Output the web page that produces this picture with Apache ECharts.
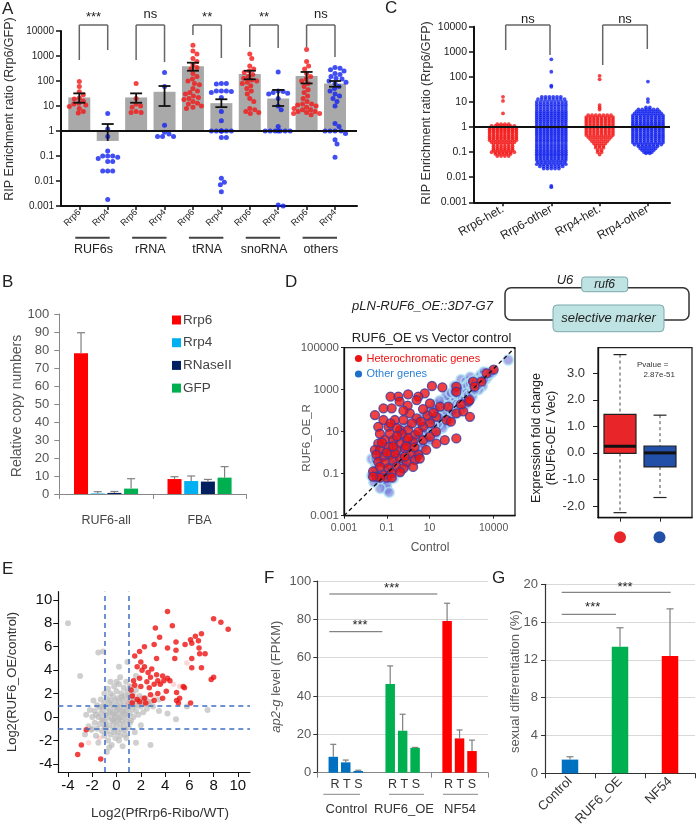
<!DOCTYPE html>
<html><head><meta charset="utf-8">
<script src="https://cdn.jsdelivr.net/npm/echarts@6/dist/echarts.min.js"></script>
<style>html,body{margin:0;padding:0;background:#fff}#c{width:696px;height:824px}</style>
</head><body><div id="c"></div>
<script>
const FONT = "'Liberation Sans', Arial, Helvetica, sans-serif";

// ---------- Panel A ----------
const A_groups = ['RUF6s', 'rRNA', 'tRNA', 'snoRNA', 'others'];
const A_sub = ['Rrp6', 'Rrp4', 'Rrp6', 'Rrp4', 'Rrp6', 'Rrp4', 'Rrp6', 'Rrp4', 'Rrp6', 'Rrp4'];
const A_mean = [22, 0.4, 22, 37, 385, 13, 190, 20, 158, 80];
const A_errHi = [32, 1.9, 32, 63, 540, 18.6, 257, 44, 230, 100];
const A_errLo = [13.5, null, 13.5, 10, 257, 9, 117, 10, 80, 59];
const A_sig = ['***', 'ns', '**', '**', 'ns'];
const A_RUF6s_Rrp6 = [95, 60, 37, 28, 21, 19, 16, 13, 12, 11, 9.5, 8, 6, 5.2];
const A_RUF6s_Rrp4 = [5, 1.2, 0.6, 0.16, 0.1, 0.1, 0.1, 0.09, 0.08, 0.06, 0.06, 0.025, 0.025, 0.025, 0.0018];
const A_rRNA_Rrp6 = [80, 20, 12, 10, 9, 6, 5.5, 5.5];
const A_rRNA_Rrp4 = [220, 60, 1.7, 0.9, 0.6, 0.6, 0.6, 0.75];
const A_tRNA_Rrp6 = [2700, 1600, 1200, 800, 600, 450, 350, 300, 200, 150, 120, 100, 80, 70, 50, 40, 35, 30, 25, 22, 20, 18, 15, 13, 12, 10, 9, 8];
const A_tRNA_Rrp4 = [80, 80, 75, 40, 40, 38, 40, 35, 22, 6, 2.6, 1, 1, 1, 1, 1, 1, 1, 0.55, 0.55, 0.013, 0.009, 0.007, 0.0037];
const A_snoRNA_Rrp6 = [1200, 800, 400, 300, 250, 220, 180, 150, 130, 110, 100, 90, 80, 65, 50, 40, 30, 20, 15, 8, 7, 6, 5, 5.5];
const A_snoRNA_Rrp4 = [230, 40, 38, 35, 32, 30, 20, 10, 7, 1.5, 1, 1, 1, 1, 1, 1, 1, 0.001, 0.0011];
const A_others_Rrp6 = [1800, 600, 400, 300, 200, 150, 120, 100, 80, 60, 45, 35, 25, 20, 15, 12, 12, 11, 10, 9, 8, 7, 7, 6, 6, 5.5, 5, 5, 4.5];
const A_others_Rrp4 = [350, 320, 280, 250, 200, 180, 150, 130, 120, 100, 90, 80, 60, 50, 40, 30, 25, 20, 15, 10, 2, 1.5, 1, 1, 1, 1, 0.8, 0.45, 0.3, 0.09];

// ---------- Panel C : [value, number of genes at that level] ----------
const C_cats = ['Rrp6-het.', 'Rrp6-other', 'Rrp4-het.', 'Rrp4-other'];
const C_Rrp6_het = [[16,1],[11,1],[3.5,1],[1.3,4],[1.1,7],[0.95,8],[0.82,8],[0.7,8],[0.6,8],[0.5,8],[0.42,8],[0.36,8],[0.3,8],[0.25,7],[0.21,6],[0.17,6],[0.14,6],[0.12,6],[0.1,7],[0.085,5],[0.07,4]];
const C_Rrp6_other = [[500,1],[160,1],[45,1],[40,1],[16,6],[13,8],[10,9],[8,9],[6.5,9],[5.2,9],[4.2,9],[3.5,9],[2.9,9],[2.4,9],[2,9],[1.65,9],[1.35,9],[1.12,9],[0.93,9],[0.78,9],[0.65,9],[0.54,9],[0.45,9],[0.37,9],[0.31,9],[0.26,9],[0.21,9],[0.175,9],[0.145,9],[0.12,9],[0.1,9],[0.083,9],[0.07,9],[0.058,9],[0.048,9],[0.04,8],[0.033,9],[0.027,7],[0.022,5],[0.0045,1],[0.004,1]];
const C_Rrp4_het = [[110,1],[80,1],[7.5,1],[6,1],[5,1],[3,7],[2.5,8],[2.1,8],[1.75,8],[1.45,8],[1.2,8],[1.0,8],[0.85,8],[0.7,8],[0.58,8],[0.48,8],[0.4,7],[0.33,6],[0.27,5],[0.22,4],[0.18,3],[0.15,3],[0.12,2],[0.1,2],[0.08,1]];
const C_Rrp4_other = [[65,1],[13,1],[10,1],[6,2],[5,6],[4.2,7],[3.5,8],[2.9,9],[2.4,9],[2,9],[1.65,9],[1.4,9],[1.18,9],[1.0,9],[0.85,9],[0.72,9],[0.6,9],[0.5,9],[0.42,9],[0.35,9],[0.29,9],[0.24,9],[0.2,8],[0.17,6],[0.14,5],[0.12,4],[0.1,3],[0.09,2]];

// ---------- Panel B ----------
const B_cats = ['RUF6-all', 'FBA'];
const B_names = ['Rrp6', 'Rrp4', 'RNaseII', 'GFP'];
const B_colors = ['#ff0000', '#00b0f0', '#002060', '#00b050'];
const B_Rrp6 = [78.2, 8.3], B_Rrp6_err = [89.6, 9.6];
const B_Rrp4 = [0.3, 7.2], B_Rrp4_err = [1.3, 10];
const B_RNaseII = [0.6, 6.9], B_RNaseII_err = [1.4, 8.1];
const B_GFP = [3, 9.1], B_GFP_err = [8.5, 15.2];

// ---------- Panel D ----------
const D_het = [[10000,9000],[4700,6000],[1100,2400],[2700,2400],[1300,1400],[180,1400],[180,800],[40,1300],[13,1500],[6,670],[3,470],[1,600],[0.35,470],[0.15,470],[0.4,270],[0.17,130],[0.07,130],[0.028,62],[0.95,175],[2.5,320],[10.5,220],[31,155],[76,155],[180,75],[650,270],[750,320],[380,93],[780,51],[63,36],[21,51],[10.5,25],[5,17],[2.5,43],[1.2,75],[0.6,36],[0.24,36],[0.12,17],[0.07,36],[0.04,17],[0.048,8],[0.14,8],[0.42,12],[1,12],[2.1,7],[5,4],[10.5,5.8],[21,2.7],[52,4],[180,4.8],[1.7,3.3],[0.85,4],[0.42,2.7],[0.2,4],[0.08,4],[0.04,2.7],[0.028,1.35],[0.048,1.35],[0.12,1.9],[0.29,1.35],[0.7,1.6],[1.4,0.93],[3,0.8],[7,1.35],[0.14,0.8],[0.07,0.65],[0.033,0.8],[0.04,0.37],[0.08,0.32],[0.2,0.45],[0.42,0.53],[0.85,0.37],[0.29,0.21],[0.12,0.18],[0.048,0.21],[0.023,0.13],[0.034,0.072],[0.07,0.085],[0.17,0.11],[0.1,0.065],[0.048,0.065],[0.17,0.065],[0.023,0.072],[2.1,0.45],[3.5,0.53],[1.7,0.21],[0.6,0.18],[0.42,0.12],[0.24,0.93],[0.7,0.65],[0.5,8],[0.3,15],[1.5,25],[4,30],[8,60],[15,80],[0.8,2],[2,1.8],[0.1,1],[0.2,2],[0.06,3],[0.3,6],[1,5],[3,10],[0.15,25],[0.6,100],[5,120],[20,10],[100,30],[300,200]];
const D_other = [[48000,26000],[9000,7000],[6000,5500],[5000,6500],[4000,3000],[3000,4500],[2500,2000],[2000,3500],[1500,1200],[1200,2200],[1000,900],[900,1500],[800,600],[700,1100],[600,450],[500,800],[400,300],[350,600],[300,250],[250,400],[200,150],[180,300],[150,120],[120,200],[100,80],[90,150],[80,60],[70,110],[60,40],[50,80],[40,30],[35,60],[30,20],[25,40],[20,15],[18,30],[15,10],[12,22],[10,7],[9,15],[8,5],[7,12],[6,4],[5,9],[4,3],[3.5,6],[3,2],[2.5,4.5],[2,1.5],[1.8,3],[1.5,1],[1.2,2.2],[1,0.7],[0.9,1.5],[0.8,0.5],[0.7,1.1],[0.6,0.35],[0.5,0.8],[0.4,0.25],[0.35,0.6],[0.3,0.2],[0.25,0.4],[0.2,0.15],[0.18,0.3],[0.15,0.1],[0.12,0.2],[0.1,0.07],[0.09,0.14],[0.08,0.05],[0.07,0.1],[0.06,0.04],[0.05,0.08],[0.04,0.05],[0.03,0.3],[0.1,0.018],[0.02,0.5],[300,3000],[500,2500],[150,1500],[800,4000],[200,800],[100,500],[60,300],[30,150],[20,200],[10,100],[5,50],[3,30],[1,20],[0.5,10],[0.3,5],[0.2,3],[0.1,1.5],[0.05,1],[0.03,0.5],[0.02,0.08],[1500,3000],[2500,5000],[3500,7000],[600,1800],[400,1200],[250,900],
  [20,60],[30,90],[50,150],[70,200],[100,300],[150,450],[200,600],[300,900],[400,1200],[600,1500],[800,2000],[1000,2500],[1500,2500],[2000,2000],[3000,2500],[4000,4000],[5000,4000],[7000,6000],[3000,1500],[2000,1000],[1000,500],[700,300],[500,200],[300,120],[200,80],[100,40],[60,25],[40,15],[20,8],[10,4],[5,2],[3,1],[1.5,0.5],[0.8,0.25],[0.4,0.12],[0.2,0.06],[0.1,0.03],[0.05,0.02],[0.13,0.013],[0.025,0.04],[0.03,0.15],[0.04,0.6],[15,40],[25,25],[40,50],[60,100],[80,150],[120,90],[180,200],[250,180],[350,400],[450,350],[550,700],[650,550],[900,800],[1100,1300],[1300,1000],[1800,1600],[2200,2600],[2800,3200],[3500,3000],[40,200],[60,500],[100,700],[150,800],[30,300],[20,120],[10,50],[8,30],[15,20],[12,35]];
const D_boxRed = [-2.25, -0.02, 0.25, 1.45, 3.7];   // min, q1, median, q3, max
const D_boxBlue = [-1.68, -0.53, 0.0, 0.26, 1.42];
const D_boxColors = ['#e8262a', '#2250a8'];

// ---------- Panel E ----------
const E_sig = [[4.2,9.0],[8.0,8.4],[8.6,8.1],[9.2,7.5],[4.6,7.8],[3.2,7.6],[3.55,6.8],[7.0,7.1],[6.5,6.9],[6.1,6.6],[6.75,6.5],[6.2,6.3],[5.65,6.2],[6.8,5.9],[4.9,6.4],[4.9,5.7],[3.1,6.2],[2.3,6.0],[4.2,5.9],[6.85,5.4],[7.3,5.4],[6.2,5.0],[4.8,5.0],[3.3,5.0],[1.9,5.6],[1.5,5.2],[2.0,4.7],[7.0,4.2],[6.2,4.2],[8.0,3.4],[7.8,3.2],[2.3,4.3],[1.7,4.3],[2.1,4.0],[2.6,3.8],[2.9,4.1],[3.3,3.6],[3.8,3.5],[4.2,3.3],[2.8,3.4],[2.5,3.0],[3.4,3.1],[3.9,3.1],[4.4,3.1],[3.1,2.8],[3.6,2.8],[1.9,3.3],[1.4,3.1],[1.5,2.7],[2.0,2.6],[2.7,2.5],[4.1,2.2],[4.95,2.1],[5.5,2.6],[5.6,2.5],[5.2,1.6],[4.95,1.4],[6.1,1.2],[5.1,1.2],[1.2,2.3],[1.3,1.8],[1.7,1.5],[2.3,1.6],[2.8,1.9],[3.4,2.0],[3.8,1.6],[3.1,1.4],[2.4,1.2],[1.9,1.3],[1.3,1.2],[-2.5,-1.1],[-2.9,-2.4],[-3.2,-3.2],[-1.3,-3.6]];
const E_weak = [[1.5,1.8],[2.0,1.6],[3.7,2.9],[5.8,4.6],[4.7,2.8],[-1.4,-1.8],[-2.3,-2.2],[1.1,1.5],[2.6,1.3],[1.2,2.6],[3.1,1.7],[5.2,2.6],[1.0,1.1],[2.2,1.1]];
const E_bg = [[-2,0],[-1.8,0.5],[-1.8,-0.5],[-1.6,1],[-1.6,-1],[-1.5,0],[-1.4,0.8],[-1.4,-0.6],[-1.3,1.5],[-1.3,0.3],[-1.2,-1.2],[-1.2,-0.2],[-1.1,0.6],[-1,2],[-1,1.2],[-1,-0.8],[-1,-1.6],[-0.9,0.2],[-0.9,-0.4],[-0.8,1.6],[-0.8,0.8],[-0.8,-1.2],[-0.7,2.4],[-0.7,0],[-0.7,-2],[-0.6,1.2],[-0.6,-0.7],[-0.5,0.5],[-0.5,-1.5],[-0.5,2],[-0.4,-0.2],[-0.4,1],[-0.4,-2.4],[-0.3,1.8],[-0.3,0.3],[-0.3,-1],[-0.2,-0.5],[-0.2,0.8],[-0.2,2.6],[-0.1,1.4],[-0.1,0],[-0.1,-1.8],[0,0.5],[0,-0.8],[0,2.2],[0,1],[0.1,-0.3],[0.1,1.6],[0.1,-1.3],[0.2,0.3],[0.2,2.8],[0.2,-2],[0.3,1.2],[0.3,-0.6],[0.3,0.8],[0.4,0],[0.4,2],[0.4,-1.1],[0.5,1.5],[0.5,0.5],[0.5,-0.3],[0.5,-2.5],[0.6,1],[0.6,2.5],[0.6,-0.8],[0.7,0.2],[0.7,1.8],[0.7,-1.5],[0.8,0.6],[0.8,3],[0.8,-0.4],[0.9,1.3],[0.9,0],[0.9,2.2],[1,0.8],[1,-0.9],[1,1.8],[1.1,0.3],[1.1,2.6],[1.2,1.2],[1.2,-0.3],[1.3,0.7],[1.3,2],[1.4,1.5],[1.4,0],[1.5,1],[1.6,2.3],[1.6,0.5],[1.7,1.4],[1.8,0.2],[1.9,1.8],[2,0.9],[2.1,1.2],[2.2,0.4],[2.4,1.6],[2.5,0.7],[2.6,1.1],[2.8,1.3],[3,0.9],[-2.3,-0.8],[-2.2,0.6],[-2.5,0.2],[-1.9,1.4],[-1.7,-1.6],[-2.6,-1.5],[0.3,3.4],[0,3],[-0.5,3],[1.6,3.5],[0.9,4.7],[0.2,4.3],[-1.1,5.6],[-1.5,5.5],[-4,8],[-3,3.5],[7.5,0.6],[5.8,0.9],[4.9,-0.2],[3.5,0.5],[1.6,-2.2],[2.8,-2.4],[-0.6,-2.6],[-0.8,-3.0],[3.5,1.5],[4.2,0.3],[2,-0.7],[-1.5,-2.2],[-2.1,-1.1],[1.5,-1.3],[0.8,-1.8],[-0.2,0.2],[0.2,-0.1],[-0.6,0.4],[0.6,0.4],[-0.3,-0.3],[0.1,0.7],[-1.1,-0.3],[1.1,-0.5],[-0.5,1.4],[0.4,1.7],[-1.2,0.9],[1.3,1.4],[-0.9,-0.9],[0.7,-1.1],[-0.2,-1.3],[0.3,-1.6],[1.8,1],[2.2,1.6],[-1.7,0.2],[-2,-1]];

// ---------- Panel F ----------
const F_cats = ['Control', 'RUF6_OE', 'NF54'];
const F_colors = ['#0070c0', '#00b050', '#ff0000'];
const F_R = [8.3, 46.3, 79.1], F_R_err = [14.8, 55.7, 88.4];
const F_T = [5.4, 21.9, 17.9], F_T_err = [6.6, 30.5, 22.3];
const F_S = [0.9, 13.0, 11.3], F_S_err = [1.3, 13.2, 17.0];

// ---------- Panel G ----------
const G_cats = ['Control', 'RUF6_OE', 'NF54'];
const G_vals = [1.45, 13.4, 12.4];
const G_err = [1.75, 15.4, 17.4];

// ================= helpers (layout only) =================
function fmtLog(v) {
  if (v >= 1) return String(Math.round(v));
  const e = Math.round(Math.log10(v));
  return Math.pow(10, e).toFixed(-e);
}
function swarm(values, center, pxDec, pxUnit, diam, maxHalf) {
  const placed = [], out = [];
  values.slice().sort((a, b) => b - a).forEach(v => {
    const py = Math.log10(v) * pxDec;
    let best = 0;
    for (let k = 0; k < 400; k++) {
      const off = (k % 2 ? 1 : -1) * Math.ceil(k / 2) * 0.5;
      if (Math.abs(off) > maxHalf) { best = 0; break; }
      let ok = true;
      for (const p of placed) {
        const dx = p[0] - off, dy = p[1] - py;
        if (dx * dx + dy * dy < diam * diam * 0.9) { ok = false; break; }
      }
      if (ok) { best = off; break; }
    }
    placed.push([best, py]);
    out.push([center + best / pxUnit, v]);
  });
  return out;
}
function bands(bins, center, spPx, maxW, pxUnit) {
  const out = [];
  bins.forEach(([v, n]) => {
    const sp = n > 1 ? Math.min(spPx, maxW / (n - 1)) : 0;
    for (let i = 0; i < n; i++) out.push([center + (i - (n - 1) / 2) * sp / pxUnit, v]);
  });
  return out;
}

const A_ptsRed = [].concat(
  swarm(A_RUF6s_Rrp6, 0, 25, 28.41, 5, 14), swarm(A_rRNA_Rrp6, 2, 25, 28.41, 5, 14),
  swarm(A_tRNA_Rrp6, 4, 25, 28.41, 5, 14), swarm(A_snoRNA_Rrp6, 6, 25, 28.41, 5, 14),
  swarm(A_others_Rrp6, 8, 25, 28.41, 5, 14));
const A_ptsBlue = [].concat(
  swarm(A_RUF6s_Rrp4, 1, 25, 28.41, 5, 14), swarm(A_rRNA_Rrp4, 3, 25, 28.41, 5, 14),
  swarm(A_tRNA_Rrp4, 5, 25, 28.41, 5, 14), swarm(A_snoRNA_Rrp4, 7, 25, 28.41, 5, 14),
  swarm(A_others_Rrp4, 9, 25, 28.41, 5, 14));
const C_ptsRed = [].concat(bands(C_Rrp6_het, 0, 3.8, 29, 48.3), bands(C_Rrp4_het, 2, 3.8, 30, 48.3));
const C_ptsBlue = [].concat(bands(C_Rrp6_other, 1, 3.8, 29, 48.3), bands(C_Rrp4_other, 3, 3.8, 30, 48.3));

function errRender(spacing, nSer, capHalf, color) {
  return function (params, api) {
    const band = api.size([1, 0])[0];
    const cx = api.coord([api.value(0), 0])[0] + (api.value(1) - (nSer - 1) / 2) * spacing * band;
    const top = api.coord([api.value(0), api.value(2)])[1];
    const base = api.coord([api.value(0), api.value(3)])[1];
    const st = { stroke: color, lineWidth: 1.2 };
    return { type: 'group', children: [
      { type: 'line', shape: { x1: cx, y1: base, x2: cx, y2: top }, style: st },
      { type: 'line', shape: { x1: cx - capHalf, y1: top, x2: cx + capHalf, y2: top }, style: st }
    ] };
  };
}
function errData(means, errs, s) { return means.map((m, i) => [i, s, errs[i], m]); }

// ================= graphic helpers =================
function T(x, y, text, o = {}) {
  const font = `${o.style || 'normal'} ${o.weight || 'normal'} ${o.size || 12}px ${FONT}`;
  return { type: 'text', x, y, rotation: o.rot || 0, z: 100, silent: true,
    style: { text, fill: o.color || '#222', font, fontFamily: FONT, fontSize: o.size || 12,
      fontStyle: o.style || 'normal', fontWeight: o.weight || 'normal',
      align: o.align || 'center', textAlign: o.align || 'center',
      verticalAlign: o.va || 'middle', textVerticalAlign: o.va || 'middle', rich: o.rich } };
}
function L(x1, y1, x2, y2, color, w) {
  return { type: 'line', z: 100, silent: true, shape: { x1, y1, x2, y2 }, style: { stroke: color || '#555', lineWidth: w || 1.5 } };
}

const Ax = i => 79.3 + i * 28.41;
const graphics = [
  T(2, 9, 'A', { size: 17, align: 'left' }), T(385, 8, 'C', { size: 17, align: 'left' }),
  T(2, 282, 'B', { size: 17, align: 'left' }), T(285, 282, 'D', { size: 17, align: 'left' }),
  T(2, 569, 'E', { size: 17, align: 'left' }), T(264, 578, 'F', { size: 17, align: 'left' }),
  T(492, 578, 'G', { size: 17, align: 'left' }),
  T(10, 109, 'RIP Enrichment ratio (Rrp6/GFP)', { size: 12.5, rot: Math.PI / 2, color: '#333' }),
  T(427, 113, 'RIP Enrichment ratio (Rrp6/GFP)', { size: 12.5, rot: Math.PI / 2, color: '#333' }),
];
const A_legs = [[60, 50], [60, 62], [35, 58], [47, 48], [47, 57]];
A_groups.forEach((g, k) => {
  const x1 = Ax(2 * k), x2 = Ax(2 * k + 1);
  graphics.push(L(x1, 25, x2, 25, '#666', 1.5), L(x1, 25, x1, A_legs[k][0], '#666', 1.5), L(x2, 25, x2, A_legs[k][1], '#666', 1.5));
  graphics.push(T((x1 + x2) / 2, A_sig[k] === 'ns' ? 14 : 17, A_sig[k], { size: 13, color: '#222' }));
  graphics.push(L(x1 - 4, 237.7, x2 + 2, 237.7, '#444', 2));
  graphics.push(T((x1 + x2) / 2, 250, g, { size: 12.5, color: '#222' }));
});
[[505.7, 550, 50, 55], [602.7, 647.3, 65, 49]].forEach(([x1, x2, l1, l2]) => {
  graphics.push(L(x1, 25, x2, 25, '#666', 1.5), L(x1, 25, x1, l1, '#666', 1.5), L(x2, 25, x2, l2, '#666', 1.5));
  graphics.push(T((x1 + x2) / 2, 19, 'ns', { size: 13 }));
});
graphics.push(T(17, 406, 'Relative copy numbers', { size: 14, rot: Math.PI / 2, color: '#555' }));
B_names.forEach((n, i) => {
  const y = 320 + i * 22.7;
  graphics.push({ type: 'rect', z: 100, shape: { x: 172, y: y - 4.5, width: 9, height: 9 }, style: { fill: B_colors[i] } });
  graphics.push(T(183, y, n, { size: 13.5, align: 'left', color: '#444' }));
});
graphics.push(
  { type: 'rect', z: 90, shape: { x: 505, y: 287.7, width: 184, height: 32.3, r: 6 }, style: { fill: 'none', stroke: '#333', lineWidth: 1.5 } },
  { type: 'rect', z: 95, shape: { x: 581.7, y: 277, width: 46, height: 14.7, r: 3 }, style: { fill: '#bfe2e2', stroke: '#7aa9ab', lineWidth: 1 } },
  { type: 'rect', z: 95, shape: { x: 553, y: 305, width: 111, height: 26.7, r: 4 }, style: { fill: '#bfe2e2', stroke: '#7aa9ab', lineWidth: 1 } },
  T(604.7, 284.5, 'ruf6', { size: 12, style: 'italic' }),
  T(608.5, 318.5, 'selective marker', { size: 13, style: 'italic' }),
  T(565, 280, 'U6', { size: 13, style: 'italic' }),
  T(422.5, 306.7, 'pLN-RUF6_OE::3D7-G7', { size: 13, style: 'italic' }),
  T(431.5, 338, 'RUF6_OE vs Vector control', { size: 13, color: '#222' }),
  { type: 'circle', z: 100, shape: { cx: 358.5, cy: 358.5, r: 3.6 }, style: { fill: '#ee1111' } },
  { type: 'circle', z: 100, shape: { cx: 358.5, cy: 374, r: 3.6 }, style: { fill: '#1f6fc8' } },
  T(366.5, 358.5, 'Heterochromatic genes', { size: 11, align: 'left', color: '#ee1111' }),
  T(366.5, 374, 'Other genes', { size: 11, align: 'left', color: '#2a7fd4' }),
  T(306.5, 438, 'RUF6_OE_R', { size: 11.5, rot: Math.PI / 2, color: '#555' }),
  T(430, 548, 'Control', { size: 12, color: '#555' }),
  T(537, 438, 'Expression fold change', { size: 12.5, rot: Math.PI / 2, color: '#222' }),
  T(552, 438, '(RUF6-OE / Vec)', { size: 12.5, rot: Math.PI / 2, color: '#222' }),
  T(637, 365, 'Pvalue =', { size: 8, align: 'left', color: '#333' }),
  T(675, 375, '2.87e-51', { size: 8, align: 'right', color: '#333' }),
  { type: 'circle', z: 100, shape: { cx: 620, cy: 537.3, r: 6 }, style: { fill: D_boxColors[0] } },
  { type: 'circle', z: 100, shape: { cx: 659.5, cy: 537.3, r: 6 }, style: { fill: D_boxColors[1] } }
);
graphics.push(
  T(12, 682, 'Log2(RUF6_OE/control)', { size: 13, rot: Math.PI / 2, color: '#333' }),
  T(160, 813, 'Log2(PfRrp6-Ribo/WT)', { size: 13.5, color: '#333' })
);
graphics.push(
  T(276.7, 676.7, '{i|ap2-g} level (FPKM)', { size: 13, rot: Math.PI / 2, color: '#595959',
    rich: { i: { fontStyle: 'italic', fontSize: 13, fontFamily: FONT, fill: '#595959', color: '#595959' } } }),
  L(329.3, 594, 437.3, 594, '#666', 1), T(391.7, 588, '***', { size: 13 }),
  L(329.3, 631.7, 382.3, 631.7, '#666', 1), T(360, 625, '***', { size: 13 })
);
[[346.5, 323.3, 360], [404, 389, 424], [460, 443, 478]].forEach(([c, a, b], i) => {
  graphics.push(T(c, 785, 'R T S', { size: 12.5, color: '#333' }));
  graphics.push(L(a, 794.3, b, 794.3, '#888', 1));
  graphics.push(T(c, 809.5, F_cats[i], { size: 13, color: '#333' }));
});
graphics.push(
  T(515, 681.7, 'sexual differentiation (%)', { size: 13, rot: Math.PI / 2, color: '#595959' }),
  L(561.7, 592.3, 670.7, 592.3, '#666', 1), T(625, 587, '***', { size: 13 }),
  L(561.7, 614.3, 616, 614.3, '#666', 1), T(592.7, 607.5, '***', { size: 13 })
);

// ================= option =================
const noBound = { outerBoundsMode: 'none' };
const grids = [
  { left: 61, top: 31, width: 296, height: 175, ...noBound },
  { left: 474, top: 26.7, width: 196, height: 175.6, ...noBound },
  { left: 59.3, top: 314, width: 187, height: 180, ...noBound },
  { left: 344, top: 347.7, width: 171, height: 168, show: true, borderColor: '#222', borderWidth: 1.3, ...noBound },
  { left: 598, top: 347.7, width: 94, height: 170, show: true, borderColor: '#222', borderWidth: 1.3, ...noBound },
  { left: 58.3, top: 591.7, width: 191.7, height: 180.3, ...noBound },
  { left: 317.3, top: 581, width: 170.7, height: 191.7, ...noBound },
  { left: 545, top: 584.3, width: 150, height: 189, ...noBound }
];
const blackLine = w => ({ show: true, onZero: false, lineStyle: { color: '#111', width: w } });
const greyLine = { show: true, onZero: false, lineStyle: { color: '#888', width: 1 } };
const darkLine = { show: true, onZero: false, lineStyle: { color: '#333', width: 1.2 } };

const xAxes = [
  { gridIndex: 0, type: 'value', min: -0.644, max: 9.774, axisLine: blackLine(2), splitLine: { show: false },
    axisTick: { show: true, customValues: [0,1,2,3,4,5,6,7,8,9], length: 4, lineStyle: { color: '#111', width: 1.5 } },
    axisLabel: { customValues: [0,1,2,3,4,5,6,7,8,9], formatter: v => A_sub[Math.round(v)], rotate: 45, fontSize: 9, margin: 5, color: '#222', fontFamily: FONT } },
  { gridIndex: 1, type: 'value', min: -0.6, max: 3.457, axisLine: blackLine(2), splitLine: { show: false },
    axisTick: { show: true, customValues: [0,1,2,3], length: 4, lineStyle: { color: '#111', width: 1.5 } },
    axisLabel: { customValues: [0,1,2,3], formatter: v => C_cats[Math.round(v)], rotate: 30, fontSize: 12, margin: 6, color: '#222', fontFamily: FONT } },
  { gridIndex: 2, type: 'category', data: B_cats, axisLine: greyLine,
    axisTick: { show: true, length: 5, lineStyle: { color: '#888' } },
    axisLabel: { fontSize: 12.5, margin: 20, color: '#444', fontFamily: FONT } },
  { gridIndex: 3, type: 'log', logBase: 10, min: 0.001, max: 100000, splitNumber: 4, axisLine: blackLine(1.3), splitLine: { show: false },
    axisTick: { show: true, customValues: [0.001, 0.1, 10, 1000, 10000], length: 3, lineStyle: { color: '#222' } },
    axisLabel: { customValues: [0.001, 0.1, 10, 1000, 10000], hideOverlap: false, showMaxLabel: true, showMinLabel: true, formatter: fmtLog, fontSize: 10.5, margin: 7, color: '#555', fontFamily: FONT } },
  { gridIndex: 4, type: 'value', min: -0.55, max: 1.8, axisLine: blackLine(1.3), splitLine: { show: false },
    axisTick: { show: true, customValues: [0, 1], length: 4, lineStyle: { color: '#222' } },
    axisLabel: { show: false } },
  { gridIndex: 5, type: 'value', min: -4.8, max: 11, axisLine: blackLine(1.2), splitLine: { show: false },
    axisTick: { show: true, customValues: [-4,-2,0,2,4,6,8,10], length: 5, lineStyle: { color: '#111' } },
    axisLabel: { customValues: [-4,-2,0,2,4,6,8,10], fontSize: 15, margin: 6, color: '#111', fontFamily: FONT } },
  { gridIndex: 6, type: 'category', data: F_cats, axisLine: greyLine,
    axisTick: { show: true, length: 5, lineStyle: { color: '#888' } }, axisLabel: { show: false } },
  { gridIndex: 7, type: 'category', data: G_cats, axisLine: darkLine,
    axisTick: { show: true, length: 5, lineStyle: { color: '#333' } },
    axisLabel: { rotate: 45, fontSize: 13, margin: 6, color: '#333', fontFamily: FONT } }
];
const decades = [0.001,0.01,0.1,1,10,100,1000,10000];
const yAxes = [
  { gridIndex: 0, type: 'log', logBase: 10, min: 0.001, max: 10000, splitNumber: 7, axisLine: blackLine(2), splitLine: { show: false },
    axisTick: { show: true, customValues: decades, length: 5, lineStyle: { color: '#111', width: 1.5 } },
    axisLabel: { customValues: decades, formatter: fmtLog, fontSize: 10, color: '#222', fontFamily: FONT, margin: 7 } },
  { gridIndex: 1, type: 'log', logBase: 10, min: 0.001, max: 10000, splitNumber: 7, axisLine: blackLine(2), splitLine: { show: false },
    axisTick: { show: true, customValues: decades, length: 5, lineStyle: { color: '#111', width: 1.5 } },
    axisLabel: { customValues: decades, formatter: fmtLog, fontSize: 10.5, color: '#222', fontFamily: FONT, margin: 7 } },
  { gridIndex: 2, type: 'value', min: 0, max: 100, interval: 10, axisLine: greyLine, splitLine: { show: false },
    axisTick: { show: true, length: 5, lineStyle: { color: '#888' } },
    axisLabel: { fontSize: 13, margin: 10, color: '#555', fontFamily: FONT } },
  { gridIndex: 3, type: 'log', logBase: 10, min: 0.001, max: 100000, splitNumber: 4, axisLine: blackLine(1.3), splitLine: { show: false },
    axisTick: { show: true, customValues: [0.001, 0.1, 10, 1000, 100000], length: 3, lineStyle: { color: '#222' } },
    axisLabel: { customValues: [0.001, 0.1, 10, 1000, 100000], formatter: fmtLog, fontSize: 11.5, margin: 5, color: '#555', fontFamily: FONT } },
  { gridIndex: 4, type: 'value', min: -2.44, max: 3.96, axisLine: blackLine(1.3), splitLine: { show: false },
    axisTick: { show: true, customValues: [-2,-1,0,1,2,3], length: 5, lineStyle: { color: '#222' } },
    axisLabel: { customValues: [-2,-1,0,1,2,3], formatter: v => v.toFixed(1), fontSize: 13, margin: 13, color: '#333', fontFamily: FONT } },
  { gridIndex: 5, type: 'value', min: -4.7, max: 10.7, axisLine: blackLine(1.2), splitLine: { show: false },
    axisTick: { show: true, customValues: [-4,-2,0,2,4,6,8,10], length: 5, lineStyle: { color: '#111' } },
    axisLabel: { customValues: [-4,-2,0,2,4,6,8,10], fontSize: 15, margin: 6, color: '#111', fontFamily: FONT } },
  { gridIndex: 6, type: 'value', min: 0, max: 100, interval: 20, axisLine: darkLine,
    axisTick: { show: true, length: 4, lineStyle: { color: '#333' } },
    splitLine: { show: true, lineStyle: { color: '#d9d9d9', width: 1 } },
    axisLabel: { fontSize: 13, margin: 6, color: '#595959', fontFamily: FONT } },
  { gridIndex: 7, type: 'value', min: 0, max: 20, interval: 4, axisLine: darkLine,
    axisTick: { show: true, length: 4, lineStyle: { color: '#333' } },
    splitLine: { show: true, lineStyle: { color: '#d9d9d9', width: 1 } },
    axisLabel: { fontSize: 13, margin: 7, color: '#595959', fontFamily: FONT } }
];

const oneLine = (axis, val) => ({ silent: true, symbol: 'none', label: { show: false },
  lineStyle: { color: '#111', width: 2, type: 'solid' }, data: [{ [axis]: val }] });

const series = [
  { type: 'custom', xAxisIndex: 0, yAxisIndex: 0, z: 1, encode: { x: 0, y: 1 },
    data: A_mean.map((m, i) => [i, m]),
    renderItem: (p, api) => {
      const x = api.value(0);
      const a = api.coord([x - 0.387, 1]), b = api.coord([x + 0.387, api.value(1)]);
      return { type: 'rect', shape: { x: a[0], y: Math.min(a[1], b[1]), width: b[0] - a[0], height: Math.abs(a[1] - b[1]) }, style: { fill: '#a9a9a9' } };
    } },
  { type: 'scatter', xAxisIndex: 0, yAxisIndex: 0, z: 2, symbolSize: 5, itemStyle: { color: '#f21616' }, data: A_ptsRed },
  { type: 'scatter', xAxisIndex: 0, yAxisIndex: 0, z: 2, symbolSize: 5, itemStyle: { color: '#1222ee' }, data: A_ptsBlue,
    markLine: oneLine('yAxis', 1) },
  { type: 'custom', xAxisIndex: 0, yAxisIndex: 0, z: 3, encode: { x: 0, y: [1, 2, 3] },
    data: A_mean.map((m, i) => [i, m, A_errHi[i], A_errLo[i] == null ? m : A_errLo[i], A_errLo[i] == null ? 0 : 1]),
    renderItem: (p, api) => {
      const x = api.value(0);
      const hi = api.coord([x, api.value(2)]), lo = api.coord([x, api.value(3)]);
      const st = { stroke: '#111', lineWidth: 1.8 };
      const ch = [
        { type: 'line', shape: { x1: hi[0], y1: lo[1], x2: hi[0], y2: hi[1] }, style: st },
        { type: 'line', shape: { x1: hi[0] - 6, y1: hi[1], x2: hi[0] + 6, y2: hi[1] }, style: st }];
      if (api.value(4)) ch.push({ type: 'line', shape: { x1: lo[0] - 6, y1: lo[1], x2: lo[0] + 6, y2: lo[1] }, style: st });
      return { type: 'group', children: ch };
    } },
  { type: 'scatter', xAxisIndex: 1, yAxisIndex: 1, z: 2, symbolSize: 3.8, itemStyle: { color: '#f21616' }, data: C_ptsRed },
  { type: 'scatter', xAxisIndex: 1, yAxisIndex: 1, z: 2, symbolSize: 3.8, itemStyle: { color: '#1222ee' }, data: C_ptsBlue,
    markLine: oneLine('yAxis', 1) },
  ...[B_Rrp6, B_Rrp4, B_RNaseII, B_GFP].map((d, s) => ({ type: 'bar', xAxisIndex: 2, yAxisIndex: 2, name: B_names[s],
    data: d, barWidth: '15%', barGap: '19%', itemStyle: { color: B_colors[s] } })),
  { type: 'custom', xAxisIndex: 2, yAxisIndex: 2, z: 5, encode: { x: 0, y: [2, 3] },
    data: [].concat(errData(B_Rrp6, B_Rrp6_err, 0), errData(B_Rrp4, B_Rrp4_err, 1), errData(B_RNaseII, B_RNaseII_err, 2), errData(B_GFP, B_GFP_err, 3)),
    renderItem: errRender(0.1785, 4, 4, '#808080') },
  { type: 'scatter', xAxisIndex: 3, yAxisIndex: 3, z: 2, symbolSize: 10,
    itemStyle: { color: 'rgba(110,110,215,0.75)', borderColor: 'rgba(175,228,242,0.95)', borderWidth: 1.8 }, data: D_other },
  { type: 'scatter', xAxisIndex: 3, yAxisIndex: 3, z: 3, symbolSize: 9,
    itemStyle: { color: '#ee1111', borderColor: '#3a3aa0', borderWidth: 1.3 }, data: D_het },
  { type: 'line', xAxisIndex: 3, yAxisIndex: 3, z: 4, symbol: 'none', silent: true,
    lineStyle: { color: '#111', width: 1.3, type: [4, 3] }, data: [[0.001, 0.001], [100000, 100000]] },
  { type: 'custom', xAxisIndex: 4, yAxisIndex: 4, encode: { x: 0, y: [1, 2, 3, 4, 5] },
    data: [[0, ...D_boxRed], [1, ...D_boxBlue]],
    renderItem: (p, api) => {
      const x = api.value(0), c = k => api.coord([x, api.value(k)]);
      const mn = c(1), q1 = c(2), md = c(3), q3 = c(4), mx = c(5), cx = mn[0], h = 16;
      const dash = { stroke: '#444', lineWidth: 1, lineDash: [3, 3] }, solid = { stroke: '#222', lineWidth: 1.2 };
      return { type: 'group', children: [
        { type: 'line', shape: { x1: cx, y1: mx[1], x2: cx, y2: q3[1] }, style: dash },
        { type: 'line', shape: { x1: cx, y1: q1[1], x2: cx, y2: mn[1] }, style: dash },
        { type: 'line', shape: { x1: cx - 6.5, y1: mx[1], x2: cx + 6.5, y2: mx[1] }, style: solid },
        { type: 'line', shape: { x1: cx - 6.5, y1: mn[1], x2: cx + 6.5, y2: mn[1] }, style: solid },
        { type: 'rect', shape: { x: cx - h, y: q3[1], width: 2 * h, height: q1[1] - q3[1] }, style: { fill: D_boxColors[p.dataIndex], stroke: '#222', lineWidth: 1.2 } },
        { type: 'line', shape: { x1: cx - h, y1: md[1], x2: cx + h, y2: md[1] }, style: { stroke: '#111', lineWidth: 3 } }
      ] };
    } },
  { type: 'scatter', xAxisIndex: 5, yAxisIndex: 5, z: 2, symbolSize: 6, itemStyle: { color: 'rgba(185,185,185,0.85)' }, data: E_bg,
    markLine: { silent: true, symbol: 'none', label: { show: false }, lineStyle: { color: '#3f6fc2', width: 1.5, type: [5, 4] },
      data: [{ xAxis: -1 }, { xAxis: 1 }, { yAxis: -1 }, { yAxis: 1 }] } },
  { type: 'scatter', xAxisIndex: 5, yAxisIndex: 5, z: 3, symbolSize: 5.5, itemStyle: { color: 'rgba(240,110,110,0.35)' }, data: E_weak },
  { type: 'scatter', xAxisIndex: 5, yAxisIndex: 5, z: 4, symbolSize: 5.5, itemStyle: { color: '#ee1111' }, data: E_sig },
  ...[F_R, F_T, F_S].map((d, s) => ({ type: 'bar', xAxisIndex: 6, yAxisIndex: 6, data: d, barWidth: '16.7%', barGap: '31%',
    itemStyle: { color: p => F_colors[p.dataIndex] } })),
  { type: 'custom', xAxisIndex: 6, yAxisIndex: 6, z: 5, encode: { x: 0, y: [2, 3] },
    data: [].concat(errData(F_R, F_R_err, 0), errData(F_T, F_T_err, 1), errData(F_S, F_S_err, 2)),
    renderItem: errRender(0.219, 3, 3, '#7f7f7f') },
  { type: 'bar', xAxisIndex: 7, yAxisIndex: 7, data: G_vals, barWidth: '33%', itemStyle: { color: p => F_colors[p.dataIndex] } },
  { type: 'custom', xAxisIndex: 7, yAxisIndex: 7, z: 5, encode: { x: 0, y: [2, 3] },
    data: errData(G_vals, G_err, 0), renderItem: errRender(0, 1, 3.5, '#7f7f7f') }
];

const chart = echarts.init(document.getElementById('c'), null, { renderer: 'canvas', width: 696, height: 824 });
chart.setOption({
  animation: false, backgroundColor: '#fff',
  textStyle: { fontFamily: FONT },
  grid: grids, xAxis: xAxes, yAxis: yAxes, series, graphic: graphics
});
</script></body></html>
